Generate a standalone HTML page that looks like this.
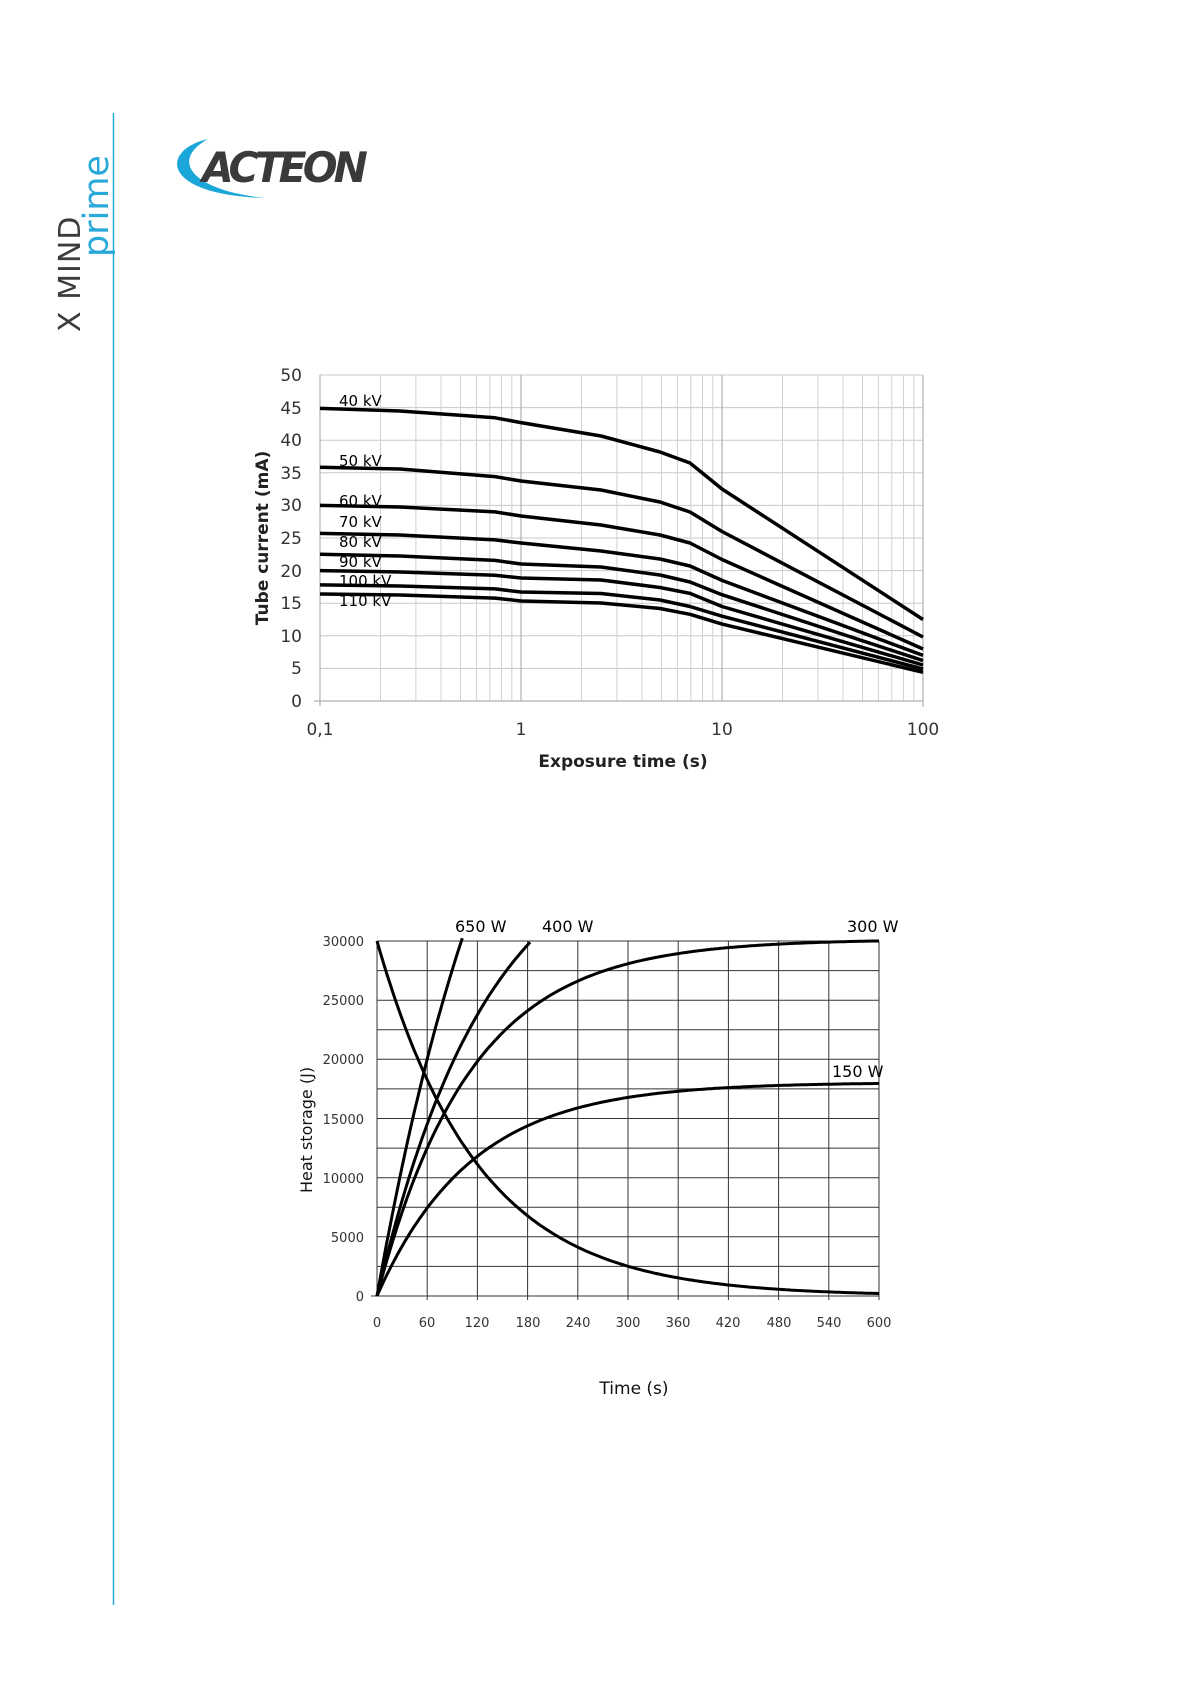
<!DOCTYPE html>
<html><head><meta charset="utf-8"><style>
html,body{margin:0;padding:0;background:#fff}
svg{display:block}
text{font-family:"DejaVu Sans","Liberation Sans",sans-serif}
</style></head><body>
<svg width="1191" height="1684" viewBox="0 0 1191 1684" xmlns="http://www.w3.org/2000/svg">
<line x1="113.5" y1="113" x2="113.5" y2="1605" stroke="#29a9d9" stroke-width="1.5"/>
<text transform="translate(80,332) rotate(-90)" font-size="30" fill="#3c3c3e" font-family="Liberation Sans,sans-serif" letter-spacing="1">X MIND</text>
<text transform="translate(108,257) rotate(-90)" font-size="35" fill="#29a9d9" font-family="Liberation Sans,sans-serif">prime</text>
<path d="M208,139 C160,150 160,195 265,198 C190,190 170,160 208,139 Z" fill="#1aa6d8"/>
<text x="202" y="182" font-size="42" font-weight="bold" font-style="italic" fill="#3a3a3c" font-family="Liberation Sans,sans-serif" letter-spacing="-4" textLength="162" lengthAdjust="spacingAndGlyphs">ACTEON</text>

<g stroke="#c8c8c8" stroke-width="1">
<line x1="320" y1="407.6" x2="923" y2="407.6"/><line x1="320" y1="440.2" x2="923" y2="440.2"/><line x1="320" y1="472.8" x2="923" y2="472.8"/><line x1="320" y1="505.4" x2="923" y2="505.4"/><line x1="320" y1="538" x2="923" y2="538"/><line x1="320" y1="570.6" x2="923" y2="570.6"/><line x1="320" y1="603.2" x2="923" y2="603.2"/><line x1="320" y1="635.8" x2="923" y2="635.8"/><line x1="320" y1="668.4" x2="923" y2="668.4"/>
<line x1="320" y1="375" x2="923" y2="375"/>
</g>
<g stroke="#d0d0d0" stroke-width="1" id="dec">
<line x1="380.5" y1="375" x2="380.5" y2="701"/><line x1="415.9" y1="375" x2="415.9" y2="701"/><line x1="441" y1="375" x2="441" y2="701"/><line x1="460.5" y1="375" x2="460.5" y2="701"/><line x1="476.4" y1="375" x2="476.4" y2="701"/><line x1="489.8" y1="375" x2="489.8" y2="701"/><line x1="501.5" y1="375" x2="501.5" y2="701"/><line x1="511.8" y1="375" x2="511.8" y2="701"/>
</g>
<use href="#dec" transform="translate(201,0)"/>
<use href="#dec" transform="translate(402,0)"/>
<g stroke="#b0b0b0" stroke-width="1.2">
<line x1="521" y1="375" x2="521" y2="701"/><line x1="722" y1="375" x2="722" y2="701"/>
<line x1="320" y1="375" x2="320" y2="706"/><line x1="923" y1="375" x2="923" y2="707"/><line x1="314" y1="701" x2="923" y2="701"/>
</g>
<g font-size="17" fill="#333" text-anchor="end">
<text x="302" y="381">50</text><text x="302" y="414">45</text><text x="302" y="446">40</text><text x="302" y="479">35</text><text x="302" y="511">30</text><text x="302" y="544">25</text><text x="302" y="577">20</text><text x="302" y="609">15</text><text x="302" y="642">10</text><text x="302" y="674">5</text><text x="302" y="707">0</text>
</g>
<g font-size="17" fill="#333" text-anchor="middle">
<text x="320" y="735">0,1</text><text x="521" y="735">1</text><text x="722" y="735">10</text><text x="923" y="735">100</text>
</g>
<text x="623" y="767" font-size="17" font-weight="bold" fill="#222" text-anchor="middle">Exposure time (s)</text>
<text transform="translate(268,538) rotate(-90)" font-size="17" font-weight="bold" fill="#222" text-anchor="middle">Tube current (mA)</text>
<g fill="none" stroke="#000" stroke-width="3.5" stroke-linejoin="round">
<polyline points="320,408.4 400,411 495,417.8 521,422.6 601,436 660,452 690,463 722,489 923,619.5"/>
<polyline points="320,467.2 400,469 495,476.6 521,481 601,490 660,502 690,512 722,531.5 923,637"/>
<polyline points="320,505.4 400,507 495,511.9 521,516 601,525 660,535 690,543 722,559.5 923,649"/>
<polyline points="320,533.4 400,535 495,539.9 521,543 601,551 660,559 690,566 722,580.4 923,655.4"/>
<polyline points="320,554.3 400,556 495,560.4 521,564 601,567 660,575 690,582 722,594.7 923,660.6"/>
<polyline points="320,570.6 400,572 495,575.2 521,578 601,580 660,587.5 690,593.4 722,606.5 923,665"/>
<polyline points="320,584.9 400,586 495,588.9 521,592 601,593.5 660,600 690,606.5 722,616.2 923,669"/>
<polyline points="320,594 400,595 495,598.1 521,601 601,603 660,608.5 690,614.3 722,624.1 923,672.3"/>
</g>
<g font-size="15" fill="#000">
<text x="339" y="406">40 kV</text><text x="339" y="466">50 kV</text><text x="339" y="506">60 kV</text><text x="339" y="527">70 kV</text><text x="339" y="547">80 kV</text><text x="339" y="567">90 kV</text><text x="339" y="586">100 kV</text><text x="339" y="606">110 kV</text>
</g>

<g stroke="#333" stroke-width="1">
<line x1="377" y1="941" x2="879" y2="941"/><line x1="377" y1="970.6" x2="879" y2="970.6"/><line x1="377" y1="1000.2" x2="879" y2="1000.2"/><line x1="377" y1="1029.8" x2="879" y2="1029.8"/><line x1="377" y1="1059.3" x2="879" y2="1059.3"/><line x1="377" y1="1088.9" x2="879" y2="1088.9"/><line x1="377" y1="1118.5" x2="879" y2="1118.5"/><line x1="377" y1="1148.1" x2="879" y2="1148.1"/><line x1="377" y1="1177.7" x2="879" y2="1177.7"/><line x1="377" y1="1207.3" x2="879" y2="1207.3"/><line x1="377" y1="1236.8" x2="879" y2="1236.8"/><line x1="377" y1="1266.4" x2="879" y2="1266.4"/><line x1="371" y1="1296" x2="879" y2="1296"/>
<line x1="377" y1="941" x2="377" y2="1296"/><line x1="427.2" y1="941" x2="427.2" y2="1300"/><line x1="477.4" y1="941" x2="477.4" y2="1300"/><line x1="527.6" y1="941" x2="527.6" y2="1300"/><line x1="577.8" y1="941" x2="577.8" y2="1300"/><line x1="628" y1="941" x2="628" y2="1300"/><line x1="678.2" y1="941" x2="678.2" y2="1300"/><line x1="728.4" y1="941" x2="728.4" y2="1300"/><line x1="778.6" y1="941" x2="778.6" y2="1300"/><line x1="828.8" y1="941" x2="828.8" y2="1300"/><line x1="879" y1="941" x2="879" y2="1300"/>
</g>
<g font-size="13" fill="#333" text-anchor="end">
<text x="364" y="946">30000</text><text x="364" y="1005">25000</text><text x="364" y="1064">20000</text><text x="364" y="1124">15000</text><text x="364" y="1183">10000</text><text x="364" y="1242">5000</text><text x="364" y="1301">0</text>
</g>
<g font-size="13" fill="#333" text-anchor="middle">
<text x="377" y="1327">0</text><text x="427" y="1327">60</text><text x="477" y="1327">120</text><text x="528" y="1327">180</text><text x="578" y="1327">240</text><text x="628" y="1327">300</text><text x="678" y="1327">360</text><text x="728" y="1327">420</text><text x="779" y="1327">480</text><text x="829" y="1327">540</text><text x="879" y="1327">600</text>
</g>
<text x="634" y="1394" font-size="17" fill="#111" text-anchor="middle">Time (s)</text>
<text transform="translate(312,1130) rotate(-90)" font-size="16" fill="#111" text-anchor="middle">Heat storage (J)</text>
<g id="curves"></g>
<script>
(function(){
var X=function(t){return 377+t*502/600},Y=function(v){return 1296-v*355/30000};
var ns="http://www.w3.org/2000/svg",g=document.getElementById('curves');
function add(f,t0,t1){var pts=[];for(var t=t0;t<=t1+0.01;t+=3){pts.push(X(t).toFixed(1)+","+Y(f(t)).toFixed(1));}
var p=document.createElementNS(ns,'polyline');p.setAttribute('points',pts.join(' '));p.setAttribute('fill','none');p.setAttribute('stroke','#000');p.setAttribute('stroke-width','3');p.setAttribute('stroke-linejoin','round');g.appendChild(p);}
add(function(t){return 65000*(1-Math.exp(-t/163));},0,102);
add(function(t){return 40000*(1-Math.exp(-t/133));},0,184);
add(function(t){return 30150*(1-Math.exp(-t/112));},0,600);
add(function(t){return 18050*(1-Math.exp(-t/113));},0,600);
add(function(t){return 30000*Math.exp(-t/121);},0,600);
})();
</script>
<g font-size="16" fill="#000">
<text x="455" y="932">650 W</text><text x="542" y="932">400 W</text><text x="847" y="932">300 W</text><text x="832" y="1077">150 W</text>
</g>
</svg>
</body></html>
